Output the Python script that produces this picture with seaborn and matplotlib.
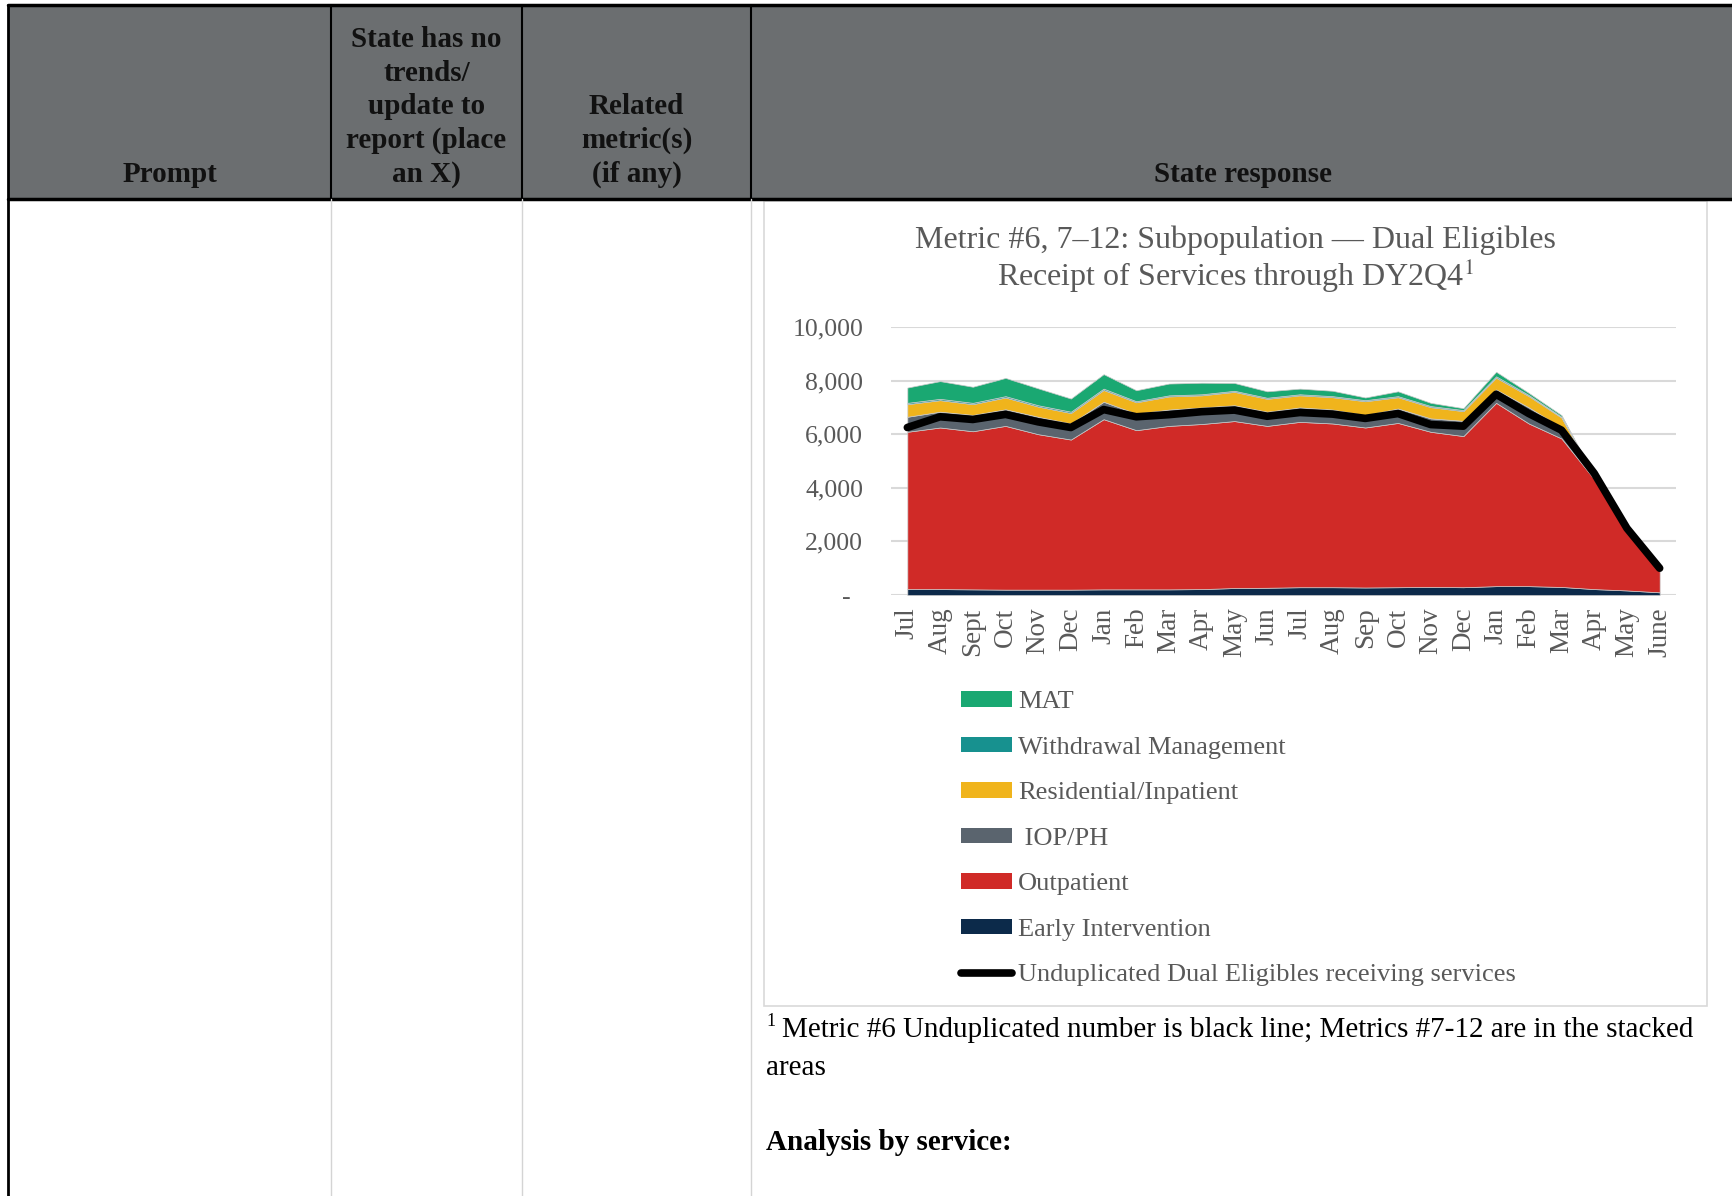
import numpy as np
import pandas as pd
import seaborn as sns
import matplotlib.pyplot as plt
from matplotlib.patches import Rectangle, Patch
from matplotlib.lines import Line2D
from matplotlib.ticker import FuncFormatter

# months DY1 Jul .. DY2 June
months = ["Jul", "Aug", "Sept", "Oct", "Nov", "Dec", "Jan", "Feb", "Mar", "Apr", "May", "Jun",
          "Jul", "Aug", "Sep", "Oct", "Nov", "Dec", "Jan", "Feb", "Mar", "Apr", "May", "June"]

# stacked services (bottom to top)
early_intervention = [220, 220, 210, 200, 200, 200, 210, 210, 210, 220, 260, 270,
                      290, 290, 280, 290, 300, 290, 330, 330, 300, 220, 170, 100]
outpatient = [5870, 6030, 5900, 6110, 5800, 5600, 6350, 5940, 6100, 6160, 6230, 6040,
              6170, 6110, 5970, 6130, 5790, 5640, 6840, 6070, 5540, 4100, 2200, 780]
iop_ph = [560, 590, 610, 620, 650, 600, 650, 620, 610, 620, 590, 530,
          540, 520, 460, 540, 500, 570, 500, 600, 410, 80, 30, 10]
residential = [470, 430, 400, 440, 380, 390, 440, 420, 490, 450, 500, 480,
               450, 460, 520, 420, 420, 360, 440, 420, 370, 20, 5, 0]
withdrawal = [50, 50, 50, 50, 50, 50, 50, 40, 40, 40, 40, 40,
              40, 40, 40, 40, 40, 40, 50, 40, 30, 5, 3, 2]
mat = [570, 660, 600, 680, 630, 490, 540, 410, 440, 430, 290, 240,
       210, 200, 100, 180, 120, 70, 170, 80, 60, 10, 5, 0]

# metric 6 - unduplicated count (black line)
unduplicated = [6250, 6650, 6550, 6740, 6460, 6250, 6920, 6650, 6730, 6840, 6900, 6670,
                6810, 6750, 6590, 6770, 6360, 6300, 7490, 6770, 6150, 4540, 2490, 1000]

series_names = ["Early Intervention", "Outpatient", " IOP/PH", "Residential/Inpatient",
                "Withdrawal Management", "MAT"]
series_colors = ["#0c2a4a", "#d02a27", "#5a646e", "#f0b41c", "#17918f", "#1aa872"]
line_name = "Unduplicated Dual Eligibles receiving services"

header_labels = ["Prompt", "State has no\ntrends/\nupdate to\nreport (place\nan X)",
                 "Related\nmetric(s)\n(if any)", "State response"]

sns.set_theme(style="white")
plt.rcParams['font.family'] = ['Liberation Serif', 'DejaVu Sans']
plt.rcParams['mathtext.fontset'] = 'stix'

W, H = 1732, 1196
fig = plt.figure(figsize=(W / 100, H / 100), dpi=100)

# background layer in pixel coords for the table
bg = fig.add_axes([0, 0, 1, 1])
bg.set_xlim(0, W)
bg.set_ylim(H, 0)
bg.axis("off")

header_gray = "#6b6e70"
col_x = [8, 331, 522, 751, W + 5]
bg.add_patch(Rectangle((8, 5), W, 194, facecolor=header_gray, edgecolor="none"))
bg.plot([8, W], [5, 5], color="black", lw=2.5)
bg.plot([8, W], [199, 199], color="black", lw=2.5)
bg.plot([8, 8], [5, H], color="black", lw=2)
for x in col_x[1:4]:
    bg.plot([x, x], [5, 199], color="black", lw=1.5)
    bg.plot([x, x], [199, H], color="#d4d4d4", lw=1)

hdr_kw = dict(fontsize=21, fontweight="bold", color="#111111", ha="center", va="bottom",
              linespacing=1.31)
for i, lab in enumerate(header_labels):
    cx = (col_x[i] + col_x[i + 1]) / 2 if i < 3 else 1243
    bg.text(cx, 188, lab, **hdr_kw)

# chart frame
bg.add_patch(Rectangle((764, 201), 943, 805, facecolor="white", edgecolor="#d9d9d9", lw=1.2))

title_col = "#595959"
bg.text(1235, 240, "Metric #6, 7\u201312: Subpopulation \u2014 Dual Eligibles", fontsize=23,
        color=title_col, ha="center", va="center")
bg.text(1235, 276, "Receipt of Services through DY2Q4$^{1}$", fontsize=23,
        color=title_col, ha="center", va="center")

# footnote + heading under the chart
bg.text(766, 1022, "1", fontsize=13, color="black", ha="left", va="center")
bg.text(782, 1030, "Metric #6 Unduplicated number is black line; Metrics #7-12 are in the stacked",
        fontsize=21, color="black", ha="left", va="center")
bg.text(766, 1068, "areas", fontsize=21, color="black", ha="left", va="center")
bg.text(766, 1142, "Analysis by service:", fontsize=21, fontweight="bold", color="black",
        ha="left", va="center")

# the chart itself
ax = fig.add_axes([891 / W, 1 - 595 / H, (1676 - 891) / W, (595 - 327) / H])
df = pd.DataFrame({"idx": np.arange(len(months)), "month": months,
                   "unduplicated": unduplicated})

ax.stackplot(df["idx"], early_intervention, outpatient, iop_ph, residential, withdrawal, mat,
             colors=series_colors, edgecolor="#c9c9c9", linewidth=0.5, zorder=3)
sns.lineplot(data=df, x="idx", y="unduplicated", color="black", linewidth=5.5, ax=ax,
             legend=False, zorder=4, solid_capstyle="round")

ax.set_xlim(-0.5, len(months) - 0.5)
ax.set_ylim(0, 10000)
ax.set_yticks(range(0, 10001, 2000))
ax.yaxis.set_major_formatter(FuncFormatter(lambda v, p: "-  " if v == 0 else f"{int(v):,}"))
ax.set_xticks(df["idx"])
ax.set_xticklabels(months, rotation=90, va="top")
ax.tick_params(axis="y", labelsize=18.5, labelcolor=title_col, pad=20, length=0)
ax.tick_params(axis="x", labelsize=19.5, labelcolor=title_col, pad=9, length=0)
ax.set_xlabel("")
ax.set_ylabel("")
ax.grid(axis="y", color="#d9d9d9", lw=1.5, zorder=0)
ax.set_axisbelow(True)
for s in ax.spines.values():
    s.set_visible(False)

handles = [Patch(facecolor=c, edgecolor="none") for c in series_colors[::-1]]
handles.append(Line2D([], [], color="black", lw=5.5, solid_capstyle="round"))
labels = series_names[::-1] + [line_name]
fig.legend(handles, labels, loc="upper left", bbox_to_anchor=(961 / W, 1 - 691 / H),
           frameon=False, fontsize=19, handlelength=1.95, handleheight=0.55,
           labelspacing=0.88, handletextpad=0.22, borderpad=0, borderaxespad=0,
           labelcolor=title_col)

fig.savefig("out.png", dpi=100)
